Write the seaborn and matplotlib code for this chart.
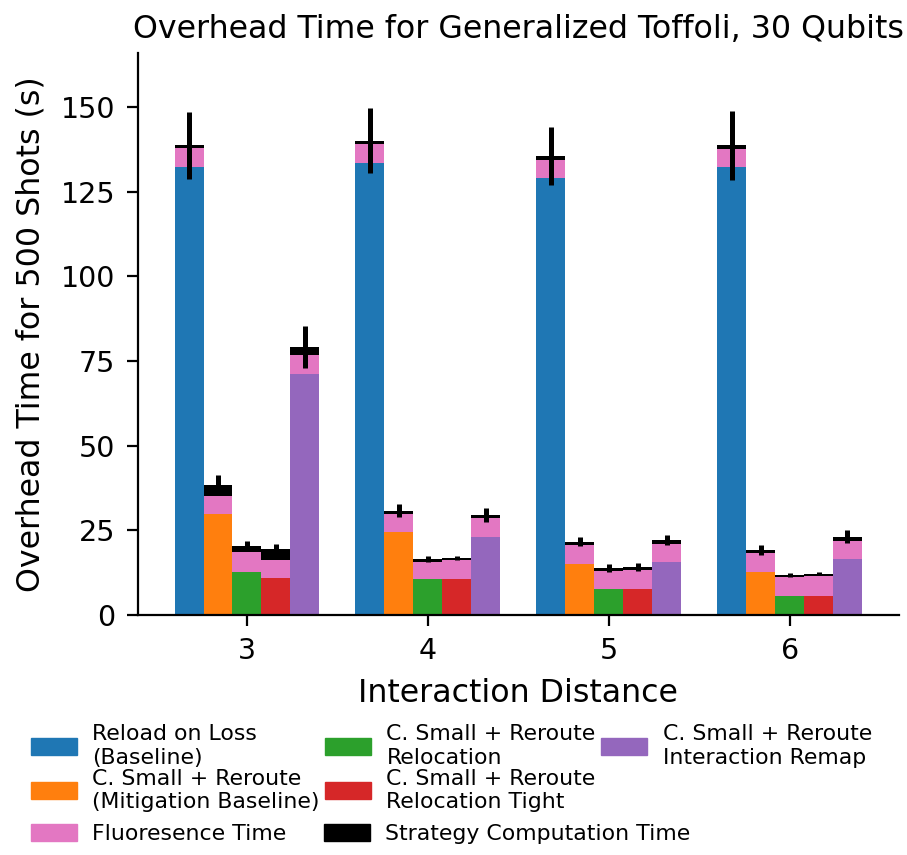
import numpy as np
import pandas as pd
import matplotlib
matplotlib.use("Agg")
import matplotlib.pyplot as plt
from matplotlib.patches import Patch
import seaborn as sns

# Interaction distances on the x axis
distances = ["3", "4", "5", "6"]

# Strategies (hue order)
strategies = [
    "Reload on Loss\n(Baseline)",
    "C. Small + Reroute\n(Mitigation Baseline)",
    "C. Small + Reroute\nRelocation",
    "C. Small + Reroute\nRelocation Tight",
    "C. Small + Reroute\nInteraction Remap",
]

# Execution overhead per strategy, one value per distance (s)
reload_on_loss = [132.2, 133.5, 129.0, 132.2]
mitigation_baseline = [29.7, 24.6, 15.1, 12.7]
relocation = [12.7, 10.5, 7.7, 5.7]
relocation_tight = [11.0, 10.5, 7.7, 5.7]
interaction_remap = [71.2, 23.1, 15.7, 16.6]

# Fluorescence time per strategy (s)
fluor_reload = [5.7, 5.6, 5.4, 5.4]
fluor_mitigation = [5.5, 5.3, 5.6, 5.7]
fluor_relocation = [5.8, 5.3, 5.3, 5.4]
fluor_tight = [5.3, 5.6, 5.6, 5.7]
fluor_remap = [5.7, 5.6, 5.4, 5.3]

# Strategy computation time (s)
comp_reload = [0.8, 0.9, 1.1, 1.1]
comp_mitigation = [3.2, 0.9, 1.0, 0.8]
comp_relocation = [1.9, 0.8, 0.9, 0.8]
comp_tight = [3.2, 0.8, 0.9, 0.8]
comp_remap = [2.3, 0.9, 1.1, 1.2]

# Standard deviation of the total time (s)
err_reload = [9.9, 9.6, 8.6, 10.1]
err_mitigation = [2.9, 1.9, 1.35, 1.4]
err_relocation = [1.4, 0.9, 1.1, 0.6]
err_tight = [1.5, 0.6, 1.2, 0.5]
err_remap = [6.2, 2.1, 1.4, 1.9]

colors = ["#1f77b4", "#ff7f0e", "#2ca02c", "#d62728", "#9467bd"]
pink = "#e377c2"

base = [reload_on_loss, mitigation_baseline, relocation, relocation_tight, interaction_remap]
fluor = [fluor_reload, fluor_mitigation, fluor_relocation, fluor_tight, fluor_remap]
comp = [comp_reload, comp_mitigation, comp_relocation, comp_tight, comp_remap]
errs = [err_reload, err_mitigation, err_relocation, err_tight, err_remap]

rows = []
for s, b, f, c, e in zip(strategies, base, fluor, comp, errs):
    for d, bv, fv, cv, ev in zip(distances, b, f, c, e):
        rows.append(dict(distance=d, strategy=s, base=bv,
                         with_fluor=bv + fv, total=bv + fv + cv, err=ev))
df = pd.DataFrame(rows)

sns.set_style("white")
plt.rcParams["font.family"] = ["DejaVu Sans"]
plt.rcParams["text.color"] = "black"
plt.rcParams["axes.labelcolor"] = "black"
plt.rcParams["xtick.color"] = "black"
plt.rcParams["ytick.color"] = "black"

fig = plt.figure(figsize=(9.07, 8.55), dpi=100)
ax = fig.add_axes([0.1516, 0.2807, 0.8396, 0.657])

common = dict(data=df, x="distance", hue="strategy", order=distances,
              hue_order=strategies, errorbar=None, saturation=1,
              width=0.8, legend=False, ax=ax, linewidth=0)

# Draw back to front: total (computation), fluorescence, execution
sns.barplot(y="total", palette=["black"] * 5, **common)
sns.barplot(y="with_fluor", palette=[pink] * 5, **common)
sns.barplot(y="base", palette=colors, **common)

# Error bars centred on the top of each stack
n_groups = len(distances)
top_patches = ax.patches[:len(strategies) * n_groups]
for i, patch in enumerate(top_patches):
    si, gi = divmod(i, n_groups)
    xc = patch.get_x() + patch.get_width() / 2
    total = base[si][gi] + fluor[si][gi] + comp[si][gi]
    ax.errorbar(xc, total, yerr=errs[si][gi], fmt="none",
                ecolor="black", elinewidth=3.6, capsize=0)

ax.set_ylim(0, 165.9)
ax.set_xlim(-0.605, 3.605)
ax.set_yticks([0, 25, 50, 75, 100, 125, 150])
ax.set_title("Overhead Time for Generalized Toffoli, 30 Qubits", fontsize=22.8, pad=11)
ax.set_xlabel("Interaction Distance", fontsize=22.8, labelpad=9)
ax.set_ylabel("Overhead Time for 500 Shots (s)", fontsize=22.8, labelpad=10)
ax.tick_params(axis="both", labelsize=20.5, length=8, width=1.6, direction="out",
               bottom=True, left=True, pad=8)
for sp in ["left", "bottom"]:
    ax.spines[sp].set_linewidth(1.6)
    ax.spines[sp].set_color("black")
sns.despine(ax=ax)

leg_kw = dict(frameon=False, fontsize=15.8, handlelength=2.1, handleheight=0.85,
              handletextpad=0.7, borderaxespad=0)
strat_handles = [Patch(color=c, label=s) for c, s in zip(colors, strategies)]
leg1 = fig.legend(handles=strat_handles, ncol=3, loc="upper left",
                  bbox_to_anchor=(0.024, 0.163), labelspacing=0.05,
                  columnspacing=0.25, **leg_kw)
extra_handles = [Patch(color=pink, label="Fluoresence Time"),
                 Patch(color="black", label="Strategy Computation Time")]
leg2 = fig.legend(handles=extra_handles, ncol=2, loc="upper left",
                  bbox_to_anchor=(0.024, 0.047), columnspacing=1.7, **leg_kw)

fig.savefig("out.png", dpi=100)
